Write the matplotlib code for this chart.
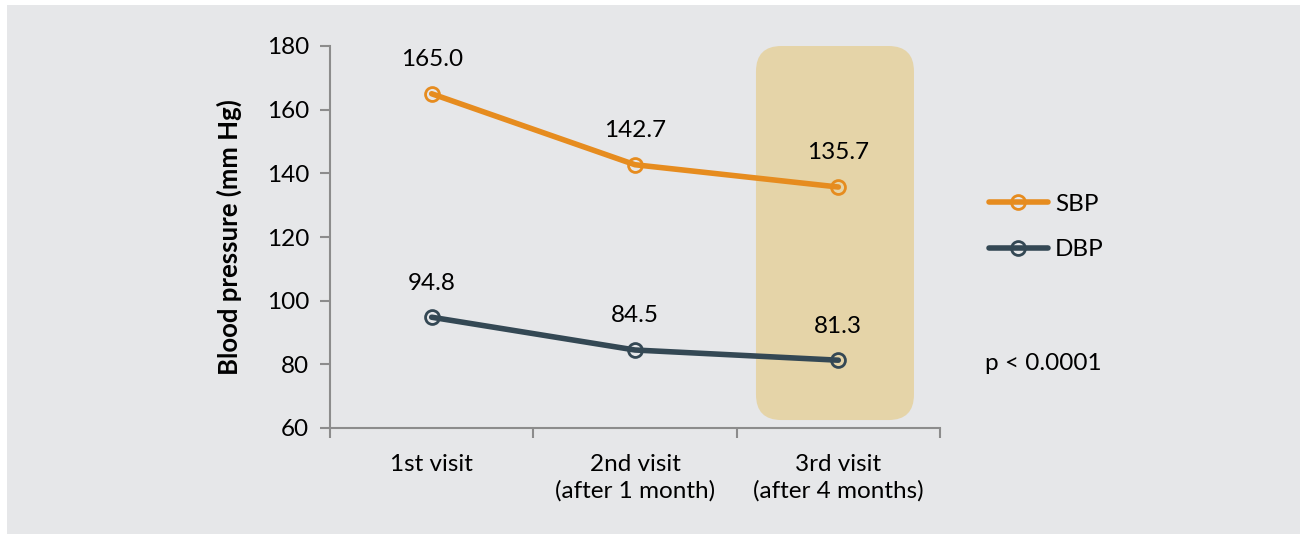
import matplotlib
matplotlib.use("Agg")
import matplotlib.pyplot as plt
from matplotlib.patches import FancyBboxPatch, Rectangle

plt.rcParams["font.family"] = ["Lato", "DejaVu Sans"]

visits = ["1st visit", "2nd visit\n(after 1 month)", "3rd visit\n(after 4 months)"]
sbp = [165.0, 142.7, 135.7]
dbp = [94.8, 84.5, 81.3]
y_ticks = [60, 80, 100, 120, 140, 160, 180]

ORANGE = "#E68C1F"
SLATE = "#344854"
BG = "#E6E7E9"
AXIS = "#8C8C8C"
FS = 17.5

fig = plt.figure(figsize=(13, 5.34), dpi=100)
fig.patch.set_facecolor("white")
fig.patches.append(Rectangle((7 / 1300, 0), 1, 1 - 5 / 534, transform=fig.transFigure,
                             facecolor=BG, edgecolor="none", zorder=-10))

ax = fig.add_axes([330 / 1300, 1 - 428 / 534, 610 / 1300, 382 / 534])
ax.set_facecolor("none")
ax.set_xlim(-0.5, 2.5)
ax.set_ylim(60, 180)

# highlighted 3rd visit (rounded box), aspect = data-y per px / data-x per px
aspect = (120 / 382) / (3 / 610)
hl = FancyBboxPatch((1.595, 62.5), 0.777, 117.5,
                    boxstyle="round,pad=0,rounding_size=0.125",
                    mutation_aspect=aspect,
                    facecolor="#E5D4A8", edgecolor="none", zorder=0)
ax.add_patch(hl)

x = list(range(len(visits)))
for vals, color, name in [(sbp, ORANGE, "SBP"), (dbp, SLATE, "DBP")]:
    ax.plot(x, vals, color=color, lw=4, marker="o", ms=10, mfc="none",
            mec=color, mew=2, label=name, zorder=3, solid_capstyle="round")
    for xi, v in zip(x, vals):
        ax.annotate(f"{v:.1f}", (xi, v), xytext=(0, 17), textcoords="offset points",
                    ha="center", va="bottom", fontsize=FS, color="black")

for side in ["top", "right"]:
    ax.spines[side].set_visible(False)
for side in ["left", "bottom"]:
    ax.spines[side].set_color(AXIS)
    ax.spines[side].set_linewidth(1.5)

ax.set_yticks(y_ticks)
ax.tick_params(axis="y", length=7, width=1.5, color=AXIS, labelsize=FS, pad=8)
ax.set_xticks([-0.5, 0.5, 1.5, 2.5])
ax.set_xticklabels([])
ax.set_xticks(x, minor=True)
ax.set_xticklabels(visits, minor=True, fontsize=FS, linespacing=1.25)
ax.tick_params(axis="x", which="major", length=7, width=1.5, color=AXIS)
ax.tick_params(axis="x", which="minor", length=0, pad=19)

ax.set_ylabel("Blood pressure (mm Hg)", fontsize=18.5, fontweight="bold", labelpad=18)

leg = ax.legend(loc="upper left", bbox_to_anchor=(1.045, 0.67), frameon=False,
                fontsize=FS, handlelength=2.4, labelspacing=1.0, handletextpad=0.3)

fig.text(985 / 1300, 1 - 364 / 534, "p < 0.0001", fontsize=FS, va="center", ha="left")

fig.savefig("out.png", dpi=100, facecolor=fig.get_facecolor())
